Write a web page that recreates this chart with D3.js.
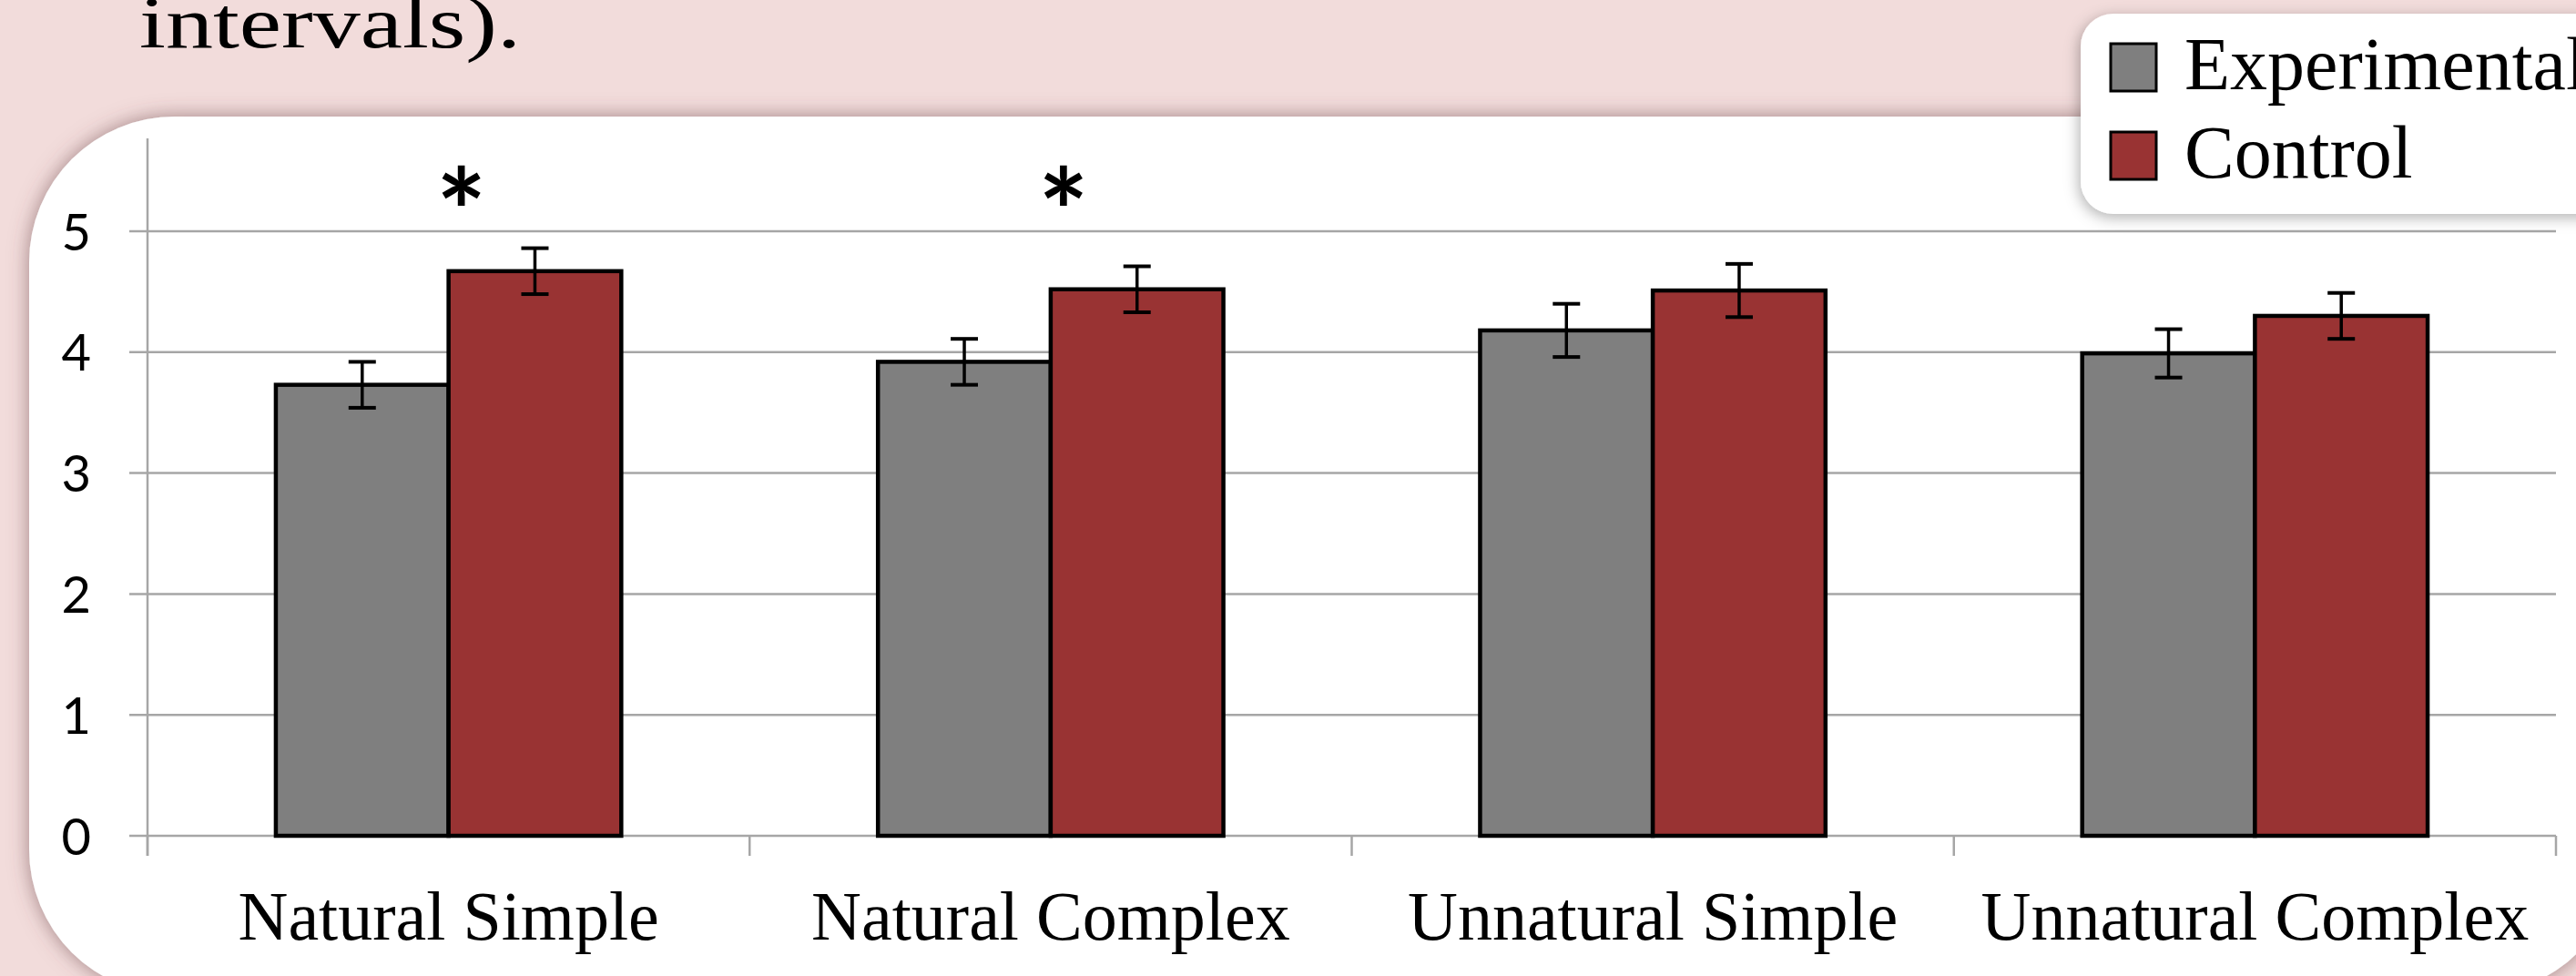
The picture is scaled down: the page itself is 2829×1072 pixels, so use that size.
<!DOCTYPE html>
<html>
<head>
<meta charset="utf-8">
<script src="https://cdn.jsdelivr.net/npm/d3@7"></script>
<style>
  html, body { margin: 0; padding: 0; background: #f2dcdb; overflow: hidden; }
  svg { display: block; }
</style>
</head>
<body>
<svg id="chart" width="2829" height="1072"></svg>
<script>
// ---- data ----
const categories = ["Natural Simple", "Natural Complex", "Unnatural Simple", "Unnatural Complex"];
const seriesNames = ["Experimental", "Control"];
const experimental = [3.73, 3.92, 4.18, 3.99];
const control = [4.67, 4.52, 4.51, 4.30];
const experimentalErr = [0.19, 0.19, 0.22, 0.20];
const controlErr = [0.19, 0.19, 0.22, 0.19];
const significant = [true, true, false, false];
const yTicks = [0, 1, 2, 3, 4, 5];
const titleText = "intervals).";

// ---- layout / style ----
const W = 2829, H = 1072;
const colors = { Experimental: "#7f7f7f", Control: "#993333" };
const plot = { left: 162, right: 2807, y0: 918, y5: 254, top: 152 };

const svg = d3.select("#chart");
const defs = svg.append("defs");

const panelShadow = defs.append("filter").attr("id", "panelShadow")
  .attr("x", "-10%").attr("y", "-20%").attr("width", "120%").attr("height", "140%");
panelShadow.append("feDropShadow").attr("dx", 0).attr("dy", 0)
  .attr("stdDeviation", 11).attr("flood-color", "#6b4548").attr("flood-opacity", 0.6);

const legendShadow = defs.append("filter").attr("id", "legendShadow")
  .attr("x", "-20%").attr("y", "-30%").attr("width", "140%").attr("height", "160%");
legendShadow.append("feDropShadow").attr("dx", -2).attr("dy", 4)
  .attr("stdDeviation", 8).attr("flood-color", "#000").attr("flood-opacity", 0.3);

// title fragment
svg.append("text")
  .attr("x", 153).attr("y", 52)
  .attr("font-family", "'Liberation Serif', 'Times New Roman', serif")
  .attr("font-size", 80)
  .attr("textLength", 419).attr("lengthAdjust", "spacingAndGlyphs")
  .attr("fill", "#000")
  .text(titleText);

// white chart panel
svg.append("rect")
  .attr("x", 32).attr("y", 128).attr("width", 2846).attr("height", 965)
  .attr("rx", 160).attr("ry", 160)
  .attr("fill", "#fff").attr("filter", "url(#panelShadow)");

// scales
const x0 = d3.scaleBand().domain(categories).range([plot.left, plot.right])
  .paddingInner(0).paddingOuter(0);
const x1 = d3.scaleBand().domain(seriesNames).range([0, x0.bandwidth()])
  .paddingInner(0).paddingOuter(0.743);
const y = d3.scaleLinear().domain([0, 5]).range([plot.y0, plot.y5]);

const g = svg.append("g");

// gridlines
g.append("g").selectAll("line").data(yTicks).join("line")
  .attr("x1", plot.left - 20).attr("x2", plot.right)
  .attr("y1", d => y(d)).attr("y2", d => y(d))
  .attr("stroke", "#a6a6a6").attr("stroke-width", 2.5);

// y axis line
g.append("line")
  .attr("x1", plot.left).attr("x2", plot.left)
  .attr("y1", plot.top).attr("y2", y(0) + 22)
  .attr("stroke", "#a6a6a6").attr("stroke-width", 2.5);

// y axis labels via d3 axis
const yAxis = d3.axisLeft(y).tickValues(yTicks).tickFormat(d3.format("d"))
  .tickSize(0).tickPadding(plot.left - 100);
const yg = g.append("g").attr("transform", `translate(${plot.left},0)`).call(yAxis);
yg.select(".domain").remove();
yg.selectAll("text")
  .attr("font-family", "Lato, 'Open Sans', sans-serif")
  .attr("font-size", 56).attr("fill", "#000").attr("dy", "0.36em");

// x axis boundary ticks
const boundaries = categories.map(c => x0(c)).concat([x0.range()[1]]);
g.append("g").selectAll("line").data(boundaries).join("line")
  .attr("x1", d => d).attr("x2", d => d)
  .attr("y1", y(0)).attr("y2", y(0) + 22)
  .attr("stroke", "#a6a6a6").attr("stroke-width", 2.5);

// x labels
g.append("g").selectAll("text").data(categories).join("text")
  .attr("x", d => x0(d) + x0.bandwidth() / 2)
  .attr("y", 1032)
  .attr("text-anchor", "middle")
  .attr("font-family", "'Liberation Serif', 'Times New Roman', serif")
  .attr("font-size", 76).attr("fill", "#000")
  .text(d => d);

// bars
const rows = categories.map((c, i) => ({
  cat: c,
  vals: [
    { s: "Experimental", v: experimental[i], e: experimentalErr[i] },
    { s: "Control", v: control[i], e: controlErr[i] }
  ],
  sig: significant[i]
}));

const groups = g.append("g").selectAll("g").data(rows).join("g")
  .attr("transform", d => `translate(${x0(d.cat)},0)`);

groups.selectAll("rect").data(d => d.vals).join("rect")
  .attr("x", d => x1(d.s))
  .attr("y", d => y(d.v))
  .attr("width", x1.bandwidth())
  .attr("height", d => y(0) - y(d.v))
  .attr("fill", d => colors[d.s])
  .attr("stroke", "#000").attr("stroke-width", 4.5);

// error bars
const capW = 30;
const eb = groups.selectAll("g.err").data(d => d.vals).join("g").attr("class", "err");
eb.append("line")
  .attr("x1", d => x1(d.s) + x1.bandwidth() / 2).attr("x2", d => x1(d.s) + x1.bandwidth() / 2)
  .attr("y1", d => y(d.v + d.e)).attr("y2", d => y(d.v - d.e))
  .attr("stroke", "#000").attr("stroke-width", 3.5);
eb.append("line")
  .attr("x1", d => x1(d.s) + x1.bandwidth() / 2 - capW / 2).attr("x2", d => x1(d.s) + x1.bandwidth() / 2 + capW / 2)
  .attr("y1", d => y(d.v + d.e)).attr("y2", d => y(d.v + d.e))
  .attr("stroke", "#000").attr("stroke-width", 4);
eb.append("line")
  .attr("x1", d => x1(d.s) + x1.bandwidth() / 2 - capW / 2).attr("x2", d => x1(d.s) + x1.bandwidth() / 2 + capW / 2)
  .attr("y1", d => y(d.v - d.e)).attr("y2", d => y(d.v - d.e))
  .attr("stroke", "#000").attr("stroke-width", 4);

// significance asterisks
groups.filter(d => d.sig).append("text")
  .attr("x", x0.bandwidth() / 2 + 14)
  .attr("y", 281)
  .attr("text-anchor", "middle")
  .attr("font-family", "Lato, 'Open Sans', sans-serif")
  .attr("font-weight", "bold")
  .attr("font-size", 130).attr("fill", "#000")
  .text("*");

// legend
const lg = svg.append("g");
lg.append("rect")
  .attr("x", 2285).attr("y", 15).attr("width", 700).attr("height", 220)
  .attr("rx", 36).attr("ry", 36)
  .attr("fill", "#fff").attr("filter", "url(#legendShadow)");
const li = lg.selectAll("g.item").data(seriesNames).join("g").attr("class", "item")
  .attr("transform", (d, i) => `translate(0, ${i * 97})`);
li.append("rect")
  .attr("x", 2318).attr("y", 48).attr("width", 50).attr("height", 52)
  .attr("fill", d => colors[d]).attr("stroke", "#000").attr("stroke-width", 3);
li.append("text")
  .attr("x", 2399).attr("y", 98)
  .attr("font-family", "'Liberation Serif', 'Times New Roman', serif")
  .attr("font-size", 82).attr("fill", "#000")
  .text(d => d);
</script>
</body>
</html>
